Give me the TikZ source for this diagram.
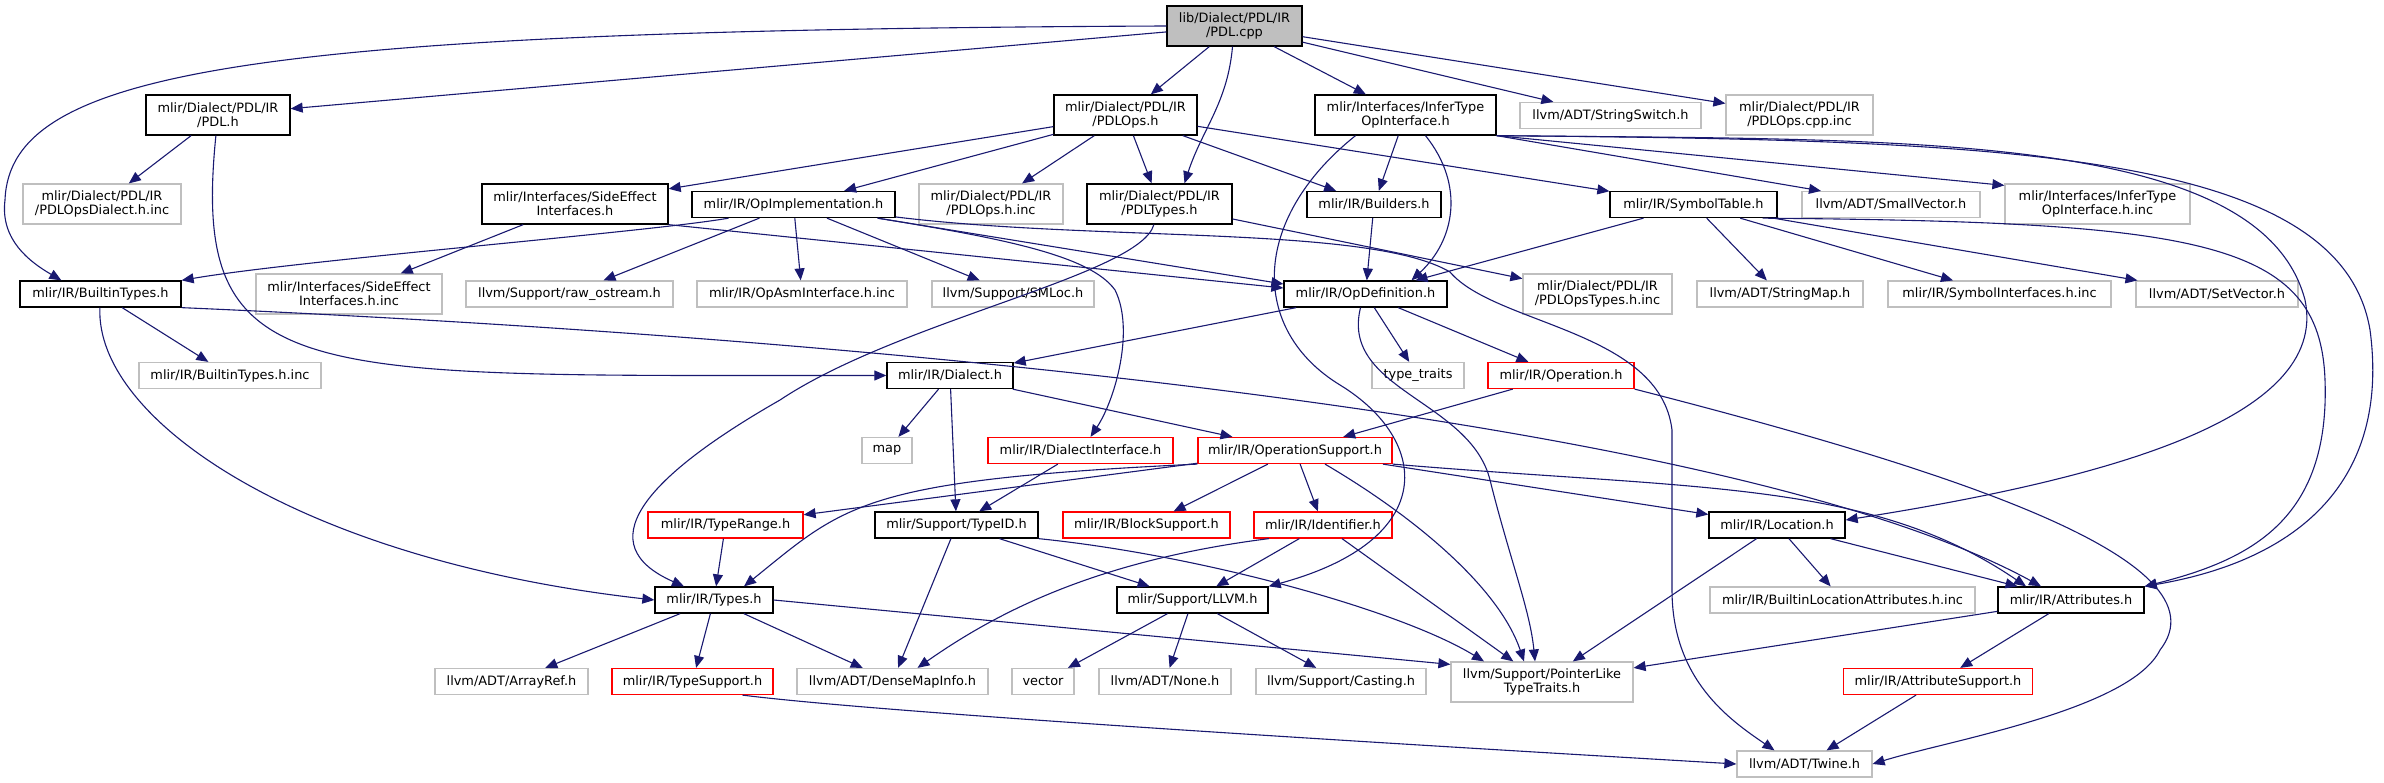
\documentclass[tikz,border=0pt]{standalone}
\usepackage{fontspec}
\setmainfont{DejaVu Sans}
\usetikzlibrary{arrows.meta}
\definecolor{edgeblue}{HTML}{191970}
\definecolor{grey75}{HTML}{BFBFBF}
\tikzset{
  hfile/.style={draw, align=center, inner sep=1pt, minimum height=26pt, font=\fontsize{12.9}{14}\selectfont},
  known/.style={hfile, draw=black, line width=1.3pt},
  ext/.style={hfile, draw=grey75, line width=1.2pt},
  trunc/.style={hfile, draw=red, line width=1.2pt},
  root/.style={known, fill=grey75},
  two/.style={minimum height=40pt},
  dep/.style={draw=edgeblue, line width=1.1pt, -{Triangle[length=12pt,width=10pt]}},
}
\begin{document}
\begin{tikzpicture}[x=1pt,y=-1pt]
\useasboundingbox (0,0) rectangle (2384,783);

\node[root, two, minimum width=135pt] (cpp) at (1234.5,26) {lib/Dialect/PDL/IR\\/PDL.cpp};

\node[known, two, minimum width=144pt] (pdlh) at (218,115) {mlir/Dialect/PDL/IR\\/PDL.h};
\node[known, two, minimum width=143pt] (pdlops) at (1125.5,115) {mlir/Dialect/PDL/IR\\/PDLOps.h};
\node[known, two, minimum width=181pt] (infer) at (1405.5,115) {mlir/Interfaces/InferType\\OpInterface.h};
\node[ext, minimum width=181pt] (strswitch) at (1610.5,115.5) {llvm/ADT/StringSwitch.h};
\node[ext, two, minimum width=147pt] (cppinc) at (1799.5,115) {mlir/Dialect/PDL/IR\\/PDLOps.cpp.inc};

\node[ext, two, minimum width=158pt] (dialinc) at (102,204) {mlir/Dialect/PDL/IR\\/PDLOpsDialect.h.inc};
\node[known, two, minimum width=186pt] (sideeff) at (575,204) {mlir/Interfaces/SideEffect\\Interfaces.h};
\node[known, minimum width=203pt] (opimpl) at (793.5,204.5) {mlir/IR/OpImplementation.h};
\node[ext, two, minimum width=144pt] (opsinc) at (991,204) {mlir/Dialect/PDL/IR\\/PDLOps.h.inc};
\node[known, two, minimum width=145pt] (pdltypes) at (1159.5,204) {mlir/Dialect/PDL/IR\\/PDLTypes.h};
\node[known, minimum width=134pt] (builders) at (1374,204.5) {mlir/IR/Builders.h};
\node[known, minimum width=167pt] (symtab) at (1693.5,204.5) {mlir/IR/SymbolTable.h};
\node[ext, minimum width=178pt] (smallvec) at (1891,204.5) {llvm/ADT/SmallVector.h};
\node[ext, two, minimum width=185pt] (inferinc) at (2097.5,204) {mlir/Interfaces/InferType\\OpInterface.h.inc};

\node[known, minimum width=161pt] (builtin) at (100.5,294) {mlir/IR/BuiltinTypes.h};
\node[ext, two, minimum width=186pt] (sideinc) at (349,294) {mlir/Interfaces/SideEffect\\Interfaces.h.inc};
\node[ext, minimum width=207pt] (rawos) at (569.5,294) {llvm/Support/raw\_ostream.h};
\node[ext, minimum width=210pt] (opasm) at (802,294) {mlir/IR/OpAsmInterface.h.inc};
\node[ext, minimum width=162pt] (smloc) at (1013,294) {llvm/Support/SMLoc.h};
\node[known, minimum width=163pt] (opdef) at (1365.5,294) {mlir/IR/OpDefinition.h};
\node[ext, two, minimum width=149pt] (typesinc) at (1597.5,294) {mlir/Dialect/PDL/IR\\/PDLOpsTypes.h.inc};
\node[ext, minimum width=166pt] (strmap) at (1780,294) {llvm/ADT/StringMap.h};
\node[ext, minimum width=223pt] (syminc) at (1999.5,294) {mlir/IR/SymbolInterfaces.h.inc};
\node[ext, minimum width=162pt] (setvec) at (2217,294) {llvm/ADT/SetVector.h};

\node[ext, minimum width=182pt] (builtininc) at (230,375.5) {mlir/IR/BuiltinTypes.h.inc};
\node[known, minimum width=126pt] (dialect) at (950,375.5) {mlir/IR/Dialect.h};
\node[ext, minimum width=92pt] (typetraits) at (1418,375.5) {type\_traits};
\node[trunc, minimum width=146pt] (operation) at (1561,375.5) {mlir/IR/Operation.h};

\node[ext, minimum width=50pt] (map) at (887,450.5) {map};
\node[trunc, minimum width=185pt] (dialif) at (1080.5,450.5) {mlir/IR/DialectInterface.h};
\node[trunc, minimum width=194pt] (opsupport) at (1295,450.5) {mlir/IR/OperationSupport.h};

\node[trunc, minimum width=155pt] (typerange) at (725.5,525) {mlir/IR/TypeRange.h};
\node[known, minimum width=163pt] (typeid) at (956.5,525) {mlir/Support/TypeID.h};
\node[trunc, minimum width=167pt] (blocksup) at (1146.5,525) {mlir/IR/BlockSupport.h};
\node[trunc, minimum width=138pt] (identifier) at (1323,525) {mlir/IR/Identifier.h};
\node[known, minimum width=136pt] (location) at (1777,525) {mlir/IR/Location.h};

\node[known, minimum width=118pt] (types) at (714,600) {mlir/IR/Types.h};
\node[known, minimum width=151pt] (llvmh) at (1192.5,600) {mlir/Support/LLVM.h};
\node[ext, minimum width=265pt] (builtinloc) at (1842.5,600) {mlir/IR/BuiltinLocationAttributes.h.inc};
\node[known, minimum width=146pt] (attrs) at (2071,600) {mlir/IR/Attributes.h};

\node[ext, minimum width=153pt] (arrayref) at (511.5,681.5) {llvm/ADT/ArrayRef.h};
\node[trunc, minimum width=161pt] (typesup) at (692.5,681.5) {mlir/IR/TypeSupport.h};
\node[ext, minimum width=191pt] (densemap) at (892.5,681.5) {llvm/ADT/DenseMapInfo.h};
\node[ext, minimum width=62pt] (vector) at (1043,681.5) {vector};
\node[ext, minimum width=132pt] (none) at (1165,681.5) {llvm/ADT/None.h};
\node[ext, minimum width=170pt] (casting) at (1341,681.5) {llvm/Support/Casting.h};
\node[ext, two, minimum width=182pt] (pointer) at (1542,682) {llvm/Support/PointerLike\\TypeTraits.h};
\node[trunc, minimum width=189pt] (attrsup) at (1938,681.5) {mlir/IR/AttributeSupport.h};

\node[ext, minimum width=135pt] (twine) at (1804.5,764) {llvm/ADT/Twine.h};

\draw[dep] (cpp) -- (pdlh);
\draw[dep] (cpp.west) .. controls (250,30) and (10,70) .. (5,200) .. controls (0,240) and (30,262) .. ([xshift=42pt]builtin.north west);
\draw[dep] (cpp) -- (pdlops);
\draw[dep] ([xshift=-2pt]cpp.south) to[out=-95,in=72] ([xshift=25pt]pdltypes.north);
\draw[dep] (cpp) -- (infer);
\draw[dep] (cpp) -- (strswitch);
\draw[dep] (cpp) -- (cppinc);

\draw[dep] (pdlh) -- (dialinc);
\draw[dep] (pdlh) .. controls (190,390) and (300,375) .. (dialect.west);

\draw[dep] (pdlops) -- (sideeff);
\draw[dep] (pdlops) -- (opimpl);
\draw[dep] (pdlops) -- (opsinc);
\draw[dep] (pdlops) -- (pdltypes);
\draw[dep] (pdlops) -- (builders);
\draw[dep] (pdlops) -- (symtab);

\draw[dep] (infer) -- (builders);
\draw[dep] ([xshift=20pt]infer.south) .. controls (1465,185) and (1455,240) .. ([xshift=46pt]opdef.north);
\draw[dep] ([xshift=-50pt]infer.south) .. controls (1250,220) and (1250,330) .. (1340,385) .. controls (1430,440) and (1440,540) .. (llvmh.north east);
\draw[dep] (infer.south east) -- ([xshift=-70pt]smallvec.north);
\draw[dep] (infer.south east) -- ([yshift=-2pt]inferinc.north west);
\draw[dep] (infer.south east) .. controls (1900,140) and (2260,130) .. (2305,300) .. controls (2330,420) and (2100,480) .. ([yshift=5pt]location.east);
\draw[dep] (infer.south east) .. controls (2000,140) and (2340,150) .. (2370,330) .. controls (2390,480) and (2300,560) .. (attrs.north east);

\draw[dep] (sideeff) -- (sideinc);
\draw[dep] (sideeff.south east) -- ([yshift=6pt]opdef.west);

\draw[dep] ([xshift=-65pt]opimpl.south) .. controls (650,232) and (300,260) .. (builtin.north east);
\draw[dep] (opimpl) -- (rawos);
\draw[dep] (opimpl) -- (opasm);
\draw[dep] (opimpl) -- (smloc);
\draw[dep] (opimpl) -- ([yshift=10pt]opdef.west);
\draw[dep] (opimpl) .. controls (1000,238) and (1090,255) .. (1115,290) .. controls (1135,330) and (1115,400) .. ([xshift=10pt]dialif.north);
\draw[dep] (opimpl) .. controls (1100,242) and (1370,225) .. (1450,272) .. controls (1495,325) and (1660,330) .. (1672,430) -- (1672,590) .. controls (1672,680) and (1730,720) .. ([xshift=-30pt]twine.north);

\draw[dep] (pdltypes) .. controls (1140,275) and (900,320) .. (780,400) .. controls (640,480) and (590,545) .. ([xshift=-30pt]types.north);
\draw[dep] (pdltypes) -- (typesinc);

\draw[dep] (builders) -- (opdef);

\draw[dep] (symtab) -- (opdef);
\draw[dep] (symtab) -- (strmap);
\draw[dep] (symtab) -- (syminc);
\draw[dep] (symtab) -- (setvec);
\draw[dep] ([xshift=-15pt]symtab.south east) .. controls (2200,222) and (2320,240) .. (2325,380) .. controls (2330,520) and (2250,560) .. (attrs.north east);

\draw[dep] (builtin) -- (builtininc);
\draw[dep] (builtin) .. controls (95,420) and (300,560) .. (types.west);
\draw[dep] (builtin.south east) .. controls (700,330) and (1700,400) .. ([xshift=-30pt]attrs.north);

\draw[dep] (opdef) -- (dialect);
\draw[dep] (opdef) -- (typetraits);
\draw[dep] (opdef) -- (operation);
\draw[dep] ([xshift=-5pt]opdef.south) .. controls (1340,390) and (1470,400) .. (1490,480) .. controls (1510,560) and (1530,610) .. ([xshift=-7pt]pointer.north);

\draw[dep] (dialect) -- (map);
\draw[dep] (dialect) -- (typeid);
\draw[dep] (dialect) -- (opsupport);

\draw[dep] (operation) -- (opsupport);
\draw[dep] (operation.south east) .. controls (1950,470) and (2230,560) .. (2160,650) .. controls (2130,710) and (1950,740) .. (twine.east);

\draw[dep] (dialif) -- (typeid);

\draw[dep] (opsupport) -- (typerange);
\draw[dep] (opsupport.south west) .. controls (860,480) and (845,505) .. ([xshift=30pt]types.north);
\draw[dep] (opsupport) -- (blocksup);
\draw[dep] (opsupport) -- (identifier);
\draw[dep] (opsupport) -- (location);
\draw[dep] (opsupport.south east) .. controls (1700,490) and (1870,480) .. ([xshift=-45pt]attrs.north);
\draw[dep] ([xshift=30pt]opsupport.south) .. controls (1420,520) and (1500,590) .. ([xshift=-18pt]pointer.north);

\draw[dep] (typerange) -- (types);

\draw[dep] (typeid) -- (densemap);
\draw[dep] (typeid) -- (llvmh);
\draw[dep] (typeid.south east) .. controls (1200,555) and (1400,610) .. ([xshift=-58pt]pointer.north);

\draw[dep] ([xshift=-54pt]identifier.south) .. controls (1100,560) and (1000,610) .. ([xshift=25pt]densemap.north);
\draw[dep] (identifier) -- (llvmh);
\draw[dep] (identifier) -- (pointer);

\draw[dep] (location) -- (pointer);
\draw[dep] (location) -- (builtinloc);
\draw[dep] (location) -- (attrs);

\draw[dep] (types) -- (arrayref);
\draw[dep] (types) -- (typesup);
\draw[dep] (types) -- (densemap);
\draw[dep] (types.east) -- ([yshift=-3pt]pointer.north west);

\draw[dep] (llvmh) -- (vector);
\draw[dep] (llvmh) -- (none);
\draw[dep] (llvmh) -- (casting);

\draw[dep] (attrs) -- (pointer);
\draw[dep] (attrs) -- (attrsup);

\draw[dep] ([xshift=50pt]typesup.south) .. controls (900,715) and (1500,750) .. (twine.west);
\draw[dep] (attrsup) -- (twine);
\end{tikzpicture}
\end{document}
